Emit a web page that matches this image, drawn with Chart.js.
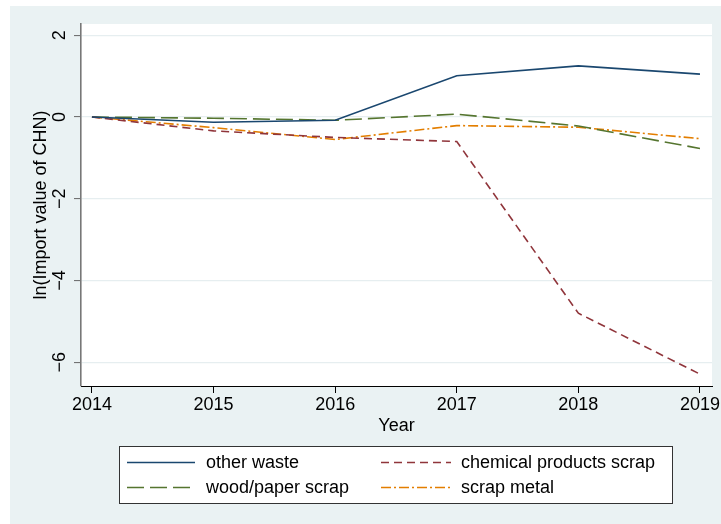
<!DOCTYPE html>
<html>
<head>
<meta charset="utf-8">
<title>ln(Import value of CHN)</title>
<script src="https://cdn.jsdelivr.net/npm/chart.js@4.4.1/dist/chart.umd.min.js"></script>
<style>
    html, body { margin: 0; padding: 0; background: #fff; }
    canvas { display: block; }
</style>
</head>
<body>
<canvas id="chart" width="721" height="524"></canvas>
<script>
// Years and log import values per waste category
const years = [2014, 2015, 2016, 2017, 2018, 2019];
const otherWaste = [0, -0.13, -0.08, 1.01, 1.25, 1.05];
const chemicalScrap = [0, -0.34, -0.50, -0.60, -4.80, -6.29];
const woodPaperScrap = [0, -0.03, -0.08, 0.07, -0.22, -0.77];
const scrapMetal = [0, -0.26, -0.55, -0.21, -0.25, -0.53];

const yTicks = [-6, -4, -2, 0, 2];
const yTickLabels = ['\u22126', '\u22124', '\u22122', '0', '2'];
const xTickLabels = ['2014', '2015', '2016', '2017', '2018', '2019'];

const seriesNames = ['other waste', 'chemical products scrap', 'wood/paper scrap', 'scrap metal'];

const FONT = '18px "Liberation Sans", Arial, sans-serif';
const BG = '#EAF2F3';

function toPoints(values) {
    return years.map((yr, i) => ({ x: yr, y: values[i] }));
}

function makeSeries(label, values, color, dash) {
    return {
        label: label,
        data: toPoints(values),
        borderColor: color,
        backgroundColor: color,
        borderWidth: 1.6,
        borderDash: dash,
        pointRadius: 0,
        tension: 0,
        fill: false
    };
}

// Backgrounds, rotated y labels, titles and the boxed two-column legend
const stataLook = {
    id: 'stataLook',
    beforeDraw(chart) {
        const ctx = chart.ctx;
        const a = chart.chartArea;
        ctx.save();
        ctx.fillStyle = '#fff';
        ctx.fillRect(0, 0, chart.width, chart.height);
        ctx.fillStyle = BG;
        ctx.fillRect(10, 6, chart.width - 10, chart.height - 6);
        ctx.fillStyle = '#fff';
        ctx.fillRect(a.left, a.top, a.right - a.left, a.bottom - a.top);
        ctx.restore();
    },
    afterDraw(chart) {
        const ctx = chart.ctx;
        const a = chart.chartArea;
        const xs = chart.scales.x;
        const ys = chart.scales.y;
        ctx.save();
        ctx.fillStyle = '#000';
        ctx.font = FONT;

        // y tick labels, rotated
        yTicks.forEach((v, i) => {
            const py = ys.getPixelForValue(v);
            ctx.save();
            ctx.translate(65, py);
            ctx.rotate(-Math.PI / 2);
            ctx.textAlign = 'center';
            ctx.textBaseline = 'alphabetic';
            ctx.fillText(yTickLabels[i], 0, 0);
            ctx.restore();
        });

        // y title
        ctx.save();
        ctx.translate(46, (a.top + a.bottom) / 2);
        ctx.rotate(-Math.PI / 2);
        ctx.textAlign = 'center';
        ctx.textBaseline = 'alphabetic';
        ctx.fillText('ln(Import value of CHN)', 0, 0);
        ctx.restore();

        // x tick labels
        ctx.textAlign = 'center';
        ctx.textBaseline = 'alphabetic';
        years.forEach((yr, i) => {
            ctx.fillText(xTickLabels[i], xs.getPixelForValue(yr), 410);
        });

        // x title
        ctx.fillText('Year', (a.left + a.right) / 2, 431);

        // legend box
        const box = { left: 119, top: 446, right: 673, bottom: 504 };
        ctx.fillStyle = '#fff';
        ctx.fillRect(box.left, box.top, box.right - box.left, box.bottom - box.top);
        ctx.strokeStyle = '#333';
        ctx.lineWidth = 1;
        ctx.strokeRect(box.left + 0.5, box.top + 0.5, box.right - box.left - 1, box.bottom - box.top - 1);

        const cols = [{ x0: 127, x1: 195, tx: 206 }, { x0: 381, x1: 451, tx: 461 }];
        const rows = [462.5, 487.5];
        chart.data.datasets.forEach((ds, i) => {
            const c = cols[i % 2];
            const y = rows[Math.floor(i / 2)];
            ctx.save();
            ctx.strokeStyle = ds.borderColor;
            ctx.lineWidth = ds.borderWidth;
            ctx.setLineDash(ds.borderDash || []);
            ctx.beginPath();
            ctx.moveTo(c.x0, y);
            ctx.lineTo(c.x1, y);
            ctx.stroke();
            ctx.restore();
            ctx.fillStyle = '#000';
            ctx.textAlign = 'left';
            ctx.textBaseline = 'middle';
            ctx.fillText(ds.label, c.tx, y + 1);
        });
        ctx.restore();
    }
};

new Chart(document.getElementById('chart'), {
    type: 'line',
    data: {
        datasets: [
            makeSeries(seriesNames[0], otherWaste, '#1A476F', []),
            makeSeries(seriesNames[1], chemicalScrap, '#90353B', [8, 5]),
            makeSeries(seriesNames[2], woodPaperScrap, '#55752F', [17, 6]),
            makeSeries(seriesNames[3], scrapMetal, '#E37E00', [10, 3, 2, 3])
        ]
    },
    options: {
        responsive: false,
        devicePixelRatio: 1,
        animation: false,
        layout: { padding: { left: 0, top: 24, right: 9, bottom: 0 } },
        plugins: {
            legend: { display: false },
            tooltip: { enabled: false }
        },
        scales: {
            x: {
                type: 'linear',
                min: 2013.91,
                max: 2019.099,
                afterBuildTicks: (s) => { s.ticks = years.map(v => ({ value: v })); },
                afterFit: (s) => { s.height = 138; },
                ticks: { display: false },
                grid: { drawOnChartArea: false, drawTicks: true, tickLength: 7, tickColor: '#000', tickWidth: 1 },
                border: { color: '#000', width: 1 }
            },
            y: {
                type: 'linear',
                min: -6.58,
                max: 2.275,
                afterBuildTicks: (s) => { s.ticks = yTicks.map(v => ({ value: v })); },
                afterFit: (s) => { s.width = 81; },
                ticks: { display: false },
                grid: { color: '#E6EEF0', lineWidth: 1.2, drawTicks: true, tickLength: 7, tickColor: '#666', tickWidth: 1 },
                border: { color: '#777', width: 1.6 }
            }
        }
    },
    plugins: [stataLook]
});
</script>
</body>
</html>
